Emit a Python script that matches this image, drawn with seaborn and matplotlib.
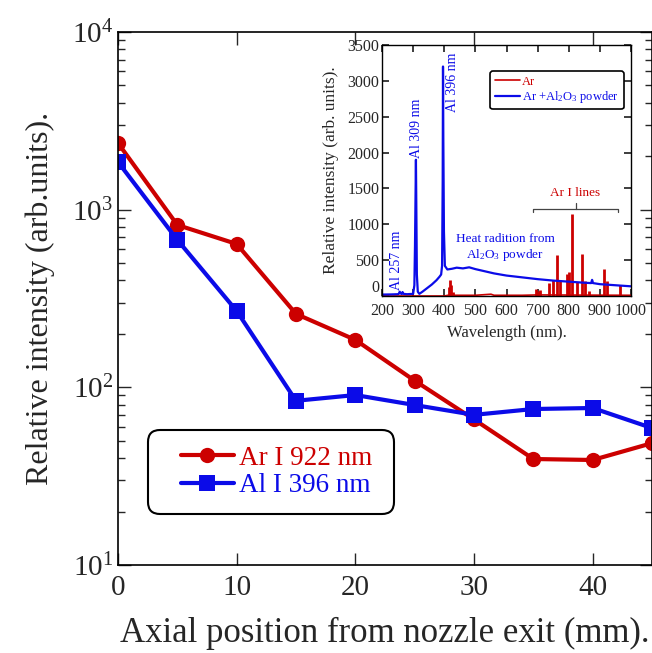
import numpy as np
import pandas as pd
import matplotlib
matplotlib.use("Agg")
import matplotlib.pyplot as plt
import seaborn as sns
from matplotlib.patches import FancyBboxPatch
from matplotlib.ticker import LogLocator, LogFormatterMathtext, MultipleLocator

# main plot data: axial intensity profiles
position = [0, 5, 10, 15, 20, 25, 30, 35, 40, 45]
ar_922 = [2370, 820, 641, 259, 185, 109, 66, 39.5, 39, 48.5]
al_396 = [1855, 676, 269, 84, 90.5, 79.5, 70, 75.5, 76.5, 59]

# inset: Ar + Al2O3 powder spectrum (blue)
wl_blue = [200, 230, 250, 254, 257, 260, 263, 266, 269, 280, 300, 304, 306, 308, 309,
           310, 312, 315, 320, 330, 345, 360, 375, 385, 390, 393, 395, 396, 397, 399,
           402, 410, 425, 440, 460, 480, 500, 530, 560, 600, 650, 700, 750, 800, 850,
           872, 875, 878, 900, 950, 1000]
int_blue = [20, 22, 25, 30, 60, 35, 28, 55, 30, 25, 30, 150, 700, 1500, 1900,
            1400, 300, 60, 30, 60, 110, 160, 220, 270, 300, 420, 1600, 3200, 2200, 900,
            420, 370, 380, 395, 385, 400, 375, 345, 315, 285, 260, 235, 215, 200, 185,
            180, 225, 180, 165, 150, 135]

# inset: Ar spectrum (red) - baseline and emission lines
wl_red_base = [200, 400, 412, 430, 500, 550, 560, 650, 700, 1000]
int_red_base = [0, 0, 10, 10, 10, 25, 10, 10, 15, 10]
ar_lines = [415, 419, 422, 427, 696, 703, 707, 738, 750, 763, 772, 794, 801, 811,
            826, 842, 852, 866, 912, 922, 965]
ar_heights = [120, 230, 150, 60, 100, 70, 85, 180, 220, 570, 230, 310, 330, 1150,
              200, 580, 210, 70, 380, 210, 160]
inset_yticks = [0, 500, 1000, 1500, 2000, 2500, 3000, 3500]

red = "#cc0000"
blue = "#0b0be8"

sns.set_theme(style="ticks")
plt.rcParams["font.family"] = ["Liberation Serif", "DejaVu Serif"]
plt.rcParams["mathtext.fontset"] = "custom"
plt.rcParams["mathtext.rm"] = "Liberation Serif"
plt.rcParams["mathtext.it"] = "Liberation Serif:italic"

fig = plt.figure(figsize=(6.52, 6.53), dpi=100)
ax = fig.add_axes([118 / 652, 1 - 565 / 653, 534 / 652, 533 / 653])

df = pd.DataFrame({"pos": position, "ar": ar_922, "al": al_396})
sns.lineplot(data=df, x="pos", y="ar", ax=ax, color=red, lw=3, marker="o",
             markersize=11, markeredgewidth=0, label="Ar I 922 nm")
sns.lineplot(data=df, x="pos", y="al", ax=ax, color=blue, lw=3, marker="s",
             markersize=11, markeredgewidth=0, label="Al I 396 nm")

ax.set_yscale("log")
ax.set_xlim(0, 45)
ax.set_ylim(10, 10000)
ax.xaxis.set_major_locator(MultipleLocator(10))
ax.yaxis.set_major_locator(LogLocator(base=10))
ax.yaxis.set_minor_locator(LogLocator(base=10, subs=np.arange(2, 10)))
ax.yaxis.set_major_formatter(LogFormatterMathtext())
ax.tick_params(which="both", direction="in", top=True, right=True, labelsize=21)
ax.tick_params(which="major", length=9, width=1)
ax.tick_params(which="minor", length=5, width=1)
ax.tick_params(axis="x", pad=7)
for s in ax.spines.values():
    s.set_linewidth(1.2)
    s.set_color("black")
ax.set_xlabel("Axial position from nozzle exit (mm).", fontsize=25, labelpad=12)
ax.set_ylabel("Relative intensity (arb.units).", fontsize=23, labelpad=12)

# rounded legend box (drawn separately so the padding matches)
box = FancyBboxPatch((1.48 + 0.12, 1.39 + 0.12), 2.46 - 0.24, 0.84 - 0.24,
                     boxstyle="round,pad=0.12", transform=fig.dpi_scale_trans,
                     fc="white", ec="black", lw=1.5, zorder=4, clip_on=False)
ax.add_patch(box)
leg = ax.legend(loc="center left", bbox_to_anchor=((181 - 118) / 534, (565 - 472) / 533),
                fontsize=19.5, frameon=False, handlelength=1.95, handletextpad=0.18,
                borderpad=0, labelspacing=0.08, borderaxespad=0)
leg.set_zorder(6)
for t, c in zip(leg.get_texts(), [red, blue]):
    t.set_color(c)

# inset spectrum
ins = fig.add_axes([382 / 652, 1 - 296 / 653, 249 / 652, 251 / 653])
ins.set_facecolor("white")
ins.plot(wl_red_base, int_red_base, color=red, lw=1.2, label="Ar")
ins.vlines(ar_lines, 0, ar_heights, color=red, lw=2)
sns.lineplot(x=wl_blue, y=int_blue, ax=ins, color=blue, lw=1.6,
             label="Ar +Al$_2$O$_3$ powder")
ins.set_xlim(200, 1000)
ins.set_ylim(0, 3500)
ins.xaxis.set_major_locator(MultipleLocator(100))
ins.set_yticks(inset_yticks)
ins.tick_params(direction="in", top=True, right=True, labelsize=11.5, length=5, pad=2)
ins.tick_params(axis="x", pad=5)
for s in ins.spines.values():
    s.set_linewidth(1.0)
    s.set_color("black")
ins.set_xlabel("Wavelength (nm).", fontsize=12, labelpad=4)
ins.set_ylabel("Relative intensity (arb. units).", fontsize=12.5, labelpad=6)
# the "0" label sits a bit higher so it clears the "200" below it
ins.yaxis.get_major_ticks()[0].label1.set_verticalalignment("bottom")

ileg = ins.legend(loc="upper right", bbox_to_anchor=(0.97, 0.895), fontsize=9,
                  frameon=True, fancybox=True, handlelength=2.0, handletextpad=0.2,
                  borderpad=0.35, labelspacing=0.1, borderaxespad=0)
ileg.get_frame().set_edgecolor("black")
ileg.get_frame().set_linewidth(1.2)
ileg.get_frame().set_alpha(1)
for t, c in zip(ileg.get_texts(), [red, blue]):
    t.set_color(c)

ins.text(248, 500, "Al 257 nm", rotation=90, color=blue, fontsize=10,
         ha="center", va="center")
ins.text(311, 2340, "Al 309 nm", rotation=90, color=blue, fontsize=10,
         ha="center", va="center")
ins.text(428, 2980, "Al 396 nm", rotation=90, color=blue, fontsize=10,
         ha="center", va="center")
ins.text(595, 670, "Heat radition from\nAl$_2$O$_3$ powder", color=blue, fontsize=9.5,
         ha="center", va="center", linespacing=1.1)
ins.text(820, 1430, "Ar I lines", color=red, fontsize=9.5, ha="center", va="center")
ins.plot([686, 686, 958, 958], [1170, 1215, 1215, 1170], color="#444444", lw=0.9)
ins.plot([822, 822], [1215, 1290], color="#444444", lw=0.9)

fig.savefig("out.png", dpi=100)
